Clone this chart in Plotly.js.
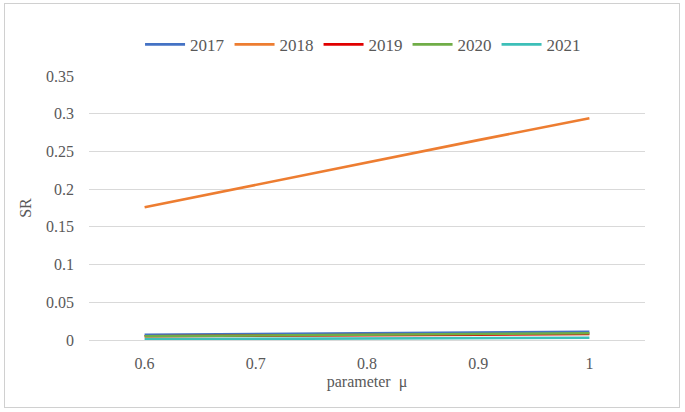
<!DOCTYPE html>
<html>
<head>
<meta charset="utf-8">
<script src="https://cdn.plot.ly/plotly-3.0.1.min.js"></script>
<style>
  html, body { margin: 0; padding: 0; background: #ffffff; }
  #wrap { position: relative; width: 685px; height: 412px; }
  #chart { position: absolute; left: 0; top: 0; width: 685px; height: 412px; }
  #frame { position: absolute; left: 4px; top: 3px; width: 674px; height: 403px; border: 1px solid #D0D0D0; pointer-events: none; }
</style>
</head>
<body>
<div id="wrap">
  <div id="chart"></div>
  <div id="frame"></div>
</div>
<script>
// Data
const mu = [0.6, 0.7, 0.8, 0.9, 1];
const tickLabels = ["0.6", "0.7", "0.8", "0.9", "1"];
const seriesNames = ["2017", "2018", "2019", "2020", "2021"];
const sr2017 = [0.007, 0.008, 0.009, 0.010, 0.011];
const sr2018 = [0.176, 0.206, 0.235, 0.265, 0.294];
const sr2019 = [0.005, 0.006, 0.0065, 0.007, 0.008];
const sr2020 = [0.005, 0.006, 0.007, 0.008, 0.009];
const sr2021 = [0.001, 0.0015, 0.002, 0.0025, 0.003];
const colors = ["#4472C4", "#ED7D31", "#E00000", "#70AD47", "#3DBFB8"];

const values = [sr2017, sr2018, sr2019, sr2020, sr2021];
const traces = seriesNames.map((name, i) => ({
  type: "scatter",
  mode: "lines",
  name: name,
  x: mu,
  y: values[i],
  line: { color: colors[i], width: 2.6 },
  hoverinfo: "skip"
}));

const fontFam = "Times New Roman";
const layout = {
  width: 685,
  height: 412,
  paper_bgcolor: "#ffffff",
  plot_bgcolor: "#ffffff",
  margin: { l: 89, r: 40, t: 76, b: 72 },
  font: { family: fontFam, size: 15, color: "#595959" },
  showlegend: true,
  legend: {
    orientation: "h",
    x: 0.53, xanchor: "center", xref: "container",
    y: 0.935, yanchor: "top", yref: "container",
    font: { family: fontFam, size: 17, color: "#595959" },
    traceorder: "normal",
    itemwidth: 40
  },
  xaxis: {
    range: [0.55, 1.05],
    tickmode: "array",
    tickvals: mu,
    ticktext: tickLabels,
    showgrid: false,
    zeroline: false,
    showline: false,
    ticks: "",
    ticklabelstandoff: 12,
    tickfont: { family: fontFam, size: 16, color: "#595959" },
    title: { text: "parameter  μ", font: { family: fontFam, size: 16, color: "#595959" }, standoff: 4 }
  },
  yaxis: {
    range: [0, 0.35],
    tickmode: "array",
    tickvals: [0, 0.05, 0.1, 0.15, 0.2, 0.25, 0.3, 0.35],
    ticktext: ["0", "0.05", "0.1", "0.15", "0.2", "0.25", "0.3", "0.35"],
    showgrid: true,
    gridcolor: "#D9D9D9",
    gridwidth: 1,
    zeroline: true,
    zerolinecolor: "#D9D9D9",
    zerolinewidth: 1,
    showline: false,
    ticks: "",
    ticklabelstandoff: 14,
    tickfont: { family: fontFam, size: 16, color: "#595959" },
    title: { text: "SR", font: { family: fontFam, size: 16, color: "#595959" }, standoff: 10 }
  }
};

Plotly.newPlot("chart", traces, layout, { staticPlot: true, displayModeBar: false });
</script>
</body>
</html>
